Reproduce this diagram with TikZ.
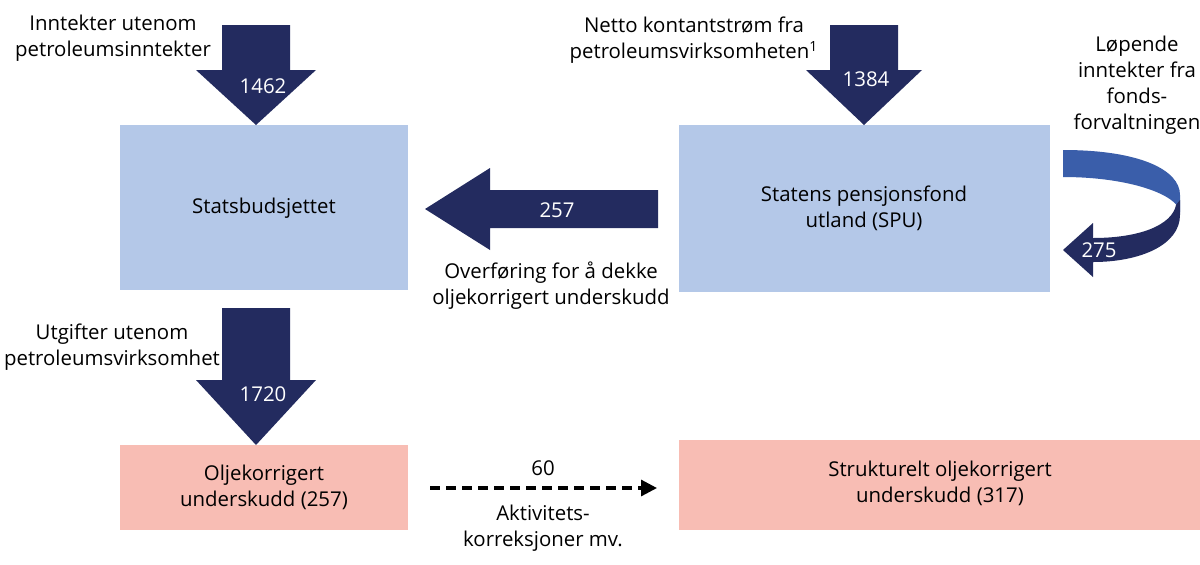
\documentclass[tikz,border=0pt]{standalone}
\usepackage{fontspec}
\setmainfont{Open Sans}
\usetikzlibrary{arrows.meta}
\definecolor{navy}{HTML}{232B5F}
\definecolor{midblue}{HTML}{3A5EAA}
\definecolor{paleblue}{HTML}{B4C8E8}
\definecolor{palered}{HTML}{F8BDB4}
\tikzset{
  bluebox/.style={fill=paleblue},
  redbox/.style={fill=palered},
  figtext/.style={align=center,font=\fontsize{10.2}{13}\selectfont,inner sep=0pt},
  numtext/.style={figtext,text=white}
}
\begin{document}
\begin{tikzpicture}[x=0.5pt,y=-0.5pt]
\useasboundingbox (0,0) rectangle (1200,564);
% boxes
\fill[bluebox] (120,125) rectangle (408,290);
\node[figtext] (budget) at (264,208) {Statsbudsjettet};
\fill[bluebox] (679,125) rectangle (1050,292);
\node[figtext] (spu) at (864,208) {Statens pensjonsfond\\utland (SPU)};
\fill[redbox] (120,445) rectangle (408,530);
\node[figtext] (deficit) at (264,487) {Oljekorrigert\\underskudd (257)};
\fill[redbox] (679,440) rectangle (1200,530);
\node[figtext] (structural) at (940,483) {Strukturelt oljekorrigert\\underskudd (317)};
% down arrows
\fill[navy] (222,25) -- (290,25) -- (290,70) -- (316,70) -- (256,125) -- (196,70) -- (222,70) -- cycle;
\node[numtext] (in1) at (263,86) {1462};
\node[figtext] at (113,38) {Inntekter utenom\\petroleumsinntekter};
\fill[navy] (830,25) -- (898,25) -- (898,70) -- (922,70) -- (864,125) -- (806,70) -- (830,70) -- cycle;
\node[numtext] (in2) at (866,79) {1384};
\node[figtext] at (694,40) {Netto kontantstrøm fra\\petroleumsvirksomheten\textsuperscript{\scriptsize 1}};
\fill[navy] (222,308) -- (290,308) -- (290,380) -- (316,380) -- (256,445) -- (196,380) -- (222,380) -- cycle;
\node[numtext] (out1) at (263,394) {1720};
\node[figtext] at (112,347) {Utgifter utenom\\petroleumsvirksomhet};
% transfer arrow
\fill[navy] (658,190) -- (658,228) -- (490,228) -- (490,250) -- (425,209) -- (490,168) -- (490,190) -- cycle;
\node[numtext] (transfer) at (557,210) {257};
\node[figtext] at (551,286) {Overføring for å dekke\\oljekorrigert underskudd};
% fund income
\fill[midblue] (1063,150) .. controls (1140,150) and (1180,170) .. (1180,195) -- (1180,212)
  .. controls (1178,195) and (1130,177) .. (1063,177) -- cycle;
\fill[navy] (1180,200) -- (1180,215) .. controls (1180,245) and (1140,262) .. (1093,262) -- (1093,277)
  -- (1063,250) -- (1093,223) -- (1093,238) .. controls (1140,238) and (1172,225) .. (1176,205) -- cycle;
\node[numtext] (fund) at (1099,250) {275};
\node[figtext] at (1137,85) {Løpende\\inntekter fra\\fonds-\\forvaltningen};
% correction
\coordinate (corrstart) at (430,488);
\coordinate (corrend) at (657,488);
\draw[dash pattern=on 5pt off 3pt,-{Triangle[length=8pt,width=8pt]},line width=1.6pt] (corrstart) -- (corrend);
\node[figtext] (corr) at (543,468) {60};
\node[figtext] at (543,528) {Aktivitets-\\korreksjoner mv.};
\end{tikzpicture}
\end{document}
